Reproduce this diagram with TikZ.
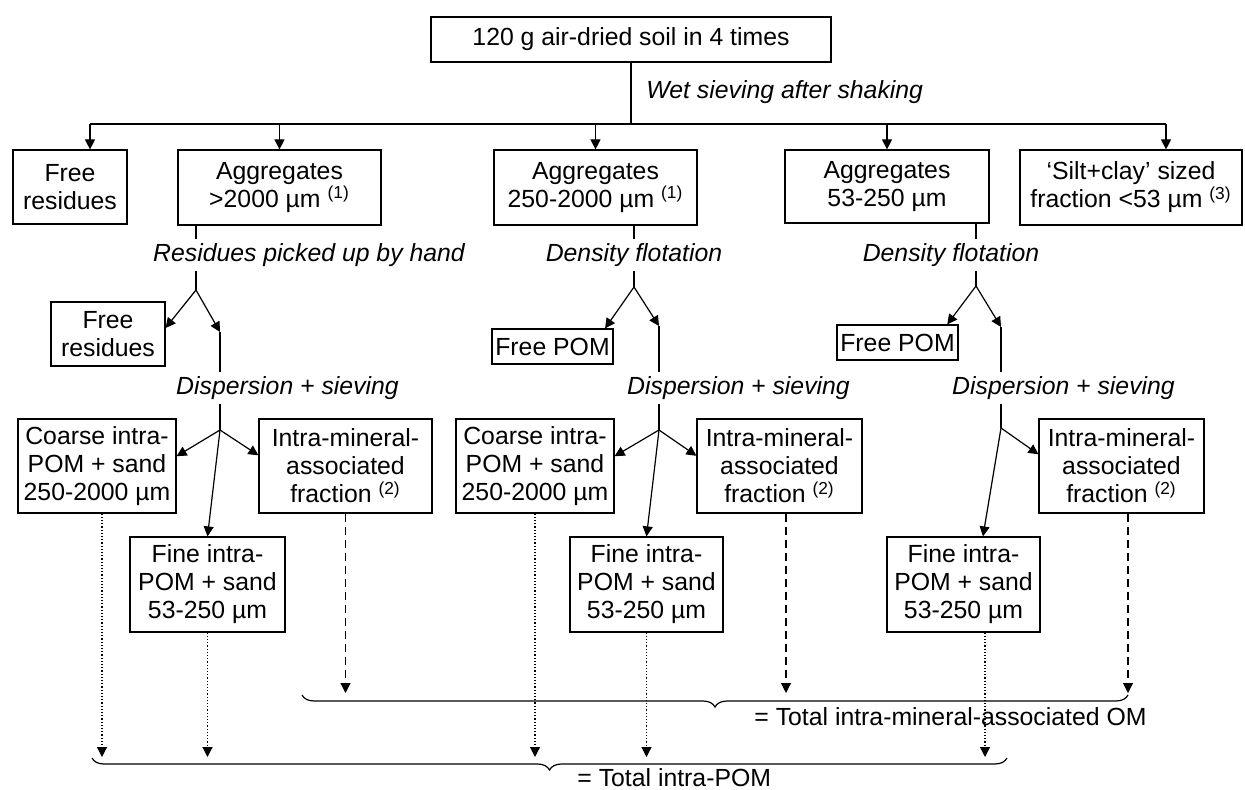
\documentclass[tikz,border=0pt]{standalone}
\usepackage{fontspec}
\setmainfont{Liberation Sans}
\usetikzlibrary{arrows.meta}
\usetikzlibrary{decorations.pathreplacing}
\newcommand{\fsz}{\fontsize{12.4}{14}\selectfont}
\newcommand{\fnote}[1]{\textsuperscript{(#1)}}
\tikzset{
    boxn/.style = {rectangle, line width=0.6pt, draw=black, align=center, inner sep=1pt, font=\fsz, text=black},
    labl/.style = {fill=white, inner xsep=0pt, inner ysep=2pt, font=\fsz\itshape, text=black},
    sumt/.style = {anchor=west, inner sep=0pt, font=\fsz, text=black},
    edgen/.style = {-, line width=0.6pt, black},
    edgea/.style = {-{Triangle[length=5pt,width=5pt]}, line width=0.6pt, black},
    edged/.style = {-{Triangle[length=5pt,width=5pt]}, line width=0.6pt, black, dash pattern=on 4pt off 2.5pt}, % intra-mineral
    edgeo/.style = {-{Triangle[length=5pt,width=5pt]}, line width=0.6pt, black, densely dotted}, % intra-POM
    brc/.style = {decorate, decoration={brace, mirror, amplitude=6pt}, line width=0.6pt, black}
}

\begin{document}
\begin{tikzpicture}[x=0.5pt,y=-0.5pt]
\path[use as bounding box] (0,0) rectangle (1245,790);
%
\node[boxn, minimum width=200pt, minimum height=22.5pt] at (631,39.5) (soil) {120 g air-dried soil in 4 times};
\node[boxn, minimum width=57pt, minimum height=37pt] at (70,187) (free1) {Free\\residues};
\node[boxn, minimum width=101.5pt, minimum height=37.5pt] at (279.5,187.5) (agg1) {Aggregates\\>2000 µm \fnote{1}};
\node[boxn, minimum width=101.5pt, minimum height=37.5pt] at (595.5,187.5) (agg2) {Aggregates\\250-2000 µm \fnote{1}};
\node[boxn, minimum width=102pt, minimum height=36.5pt] at (887,186.5) (agg3) {Aggregates\\53-250 µm};
\node[boxn, minimum width=111pt, minimum height=37.5pt] at (1131,187.5) (silt) {‘Silt+clay’ sized\\fraction <53 µm \fnote{3}};
%
\node[boxn, minimum width=57pt, minimum height=32pt] at (108,334) (free2) {Free\\residues};
\node[boxn, minimum width=60.5pt, minimum height=17.5pt] at (552.5,346.5) (pom2) {Free POM};
\node[boxn, minimum width=60.5pt, minimum height=17.5pt] at (897.5,342.5) (pom3) {Free POM};
%
\node[boxn, minimum width=79pt, minimum height=47pt] at (97,466) (coarse1) {Coarse intra-\\POM + sand\\250-2000 µm};
\node[boxn, minimum width=86.5pt, minimum height=47pt] at (345.5,466) (intra1) {Intra-mineral-\\associated\\fraction \fnote{2}};
\node[boxn, minimum width=79pt, minimum height=47pt] at (535,466) (coarse2) {Coarse intra-\\POM + sand\\250-2000 µm};
\node[boxn, minimum width=82.5pt, minimum height=47pt] at (779.5,466) (intra2) {Intra-mineral-\\associated\\fraction \fnote{2}};
\node[boxn, minimum width=82.5pt, minimum height=47pt] at (1121.5,466) (intra3) {Intra-mineral-\\associated\\fraction \fnote{2}};
\node[boxn, minimum width=77.5pt, minimum height=47.5pt] at (207.5,584.5) (fine1) {Fine intra-\\POM + sand\\53-250 µm};
\node[boxn, minimum width=76.5pt, minimum height=47.5pt] at (646.5,584.5) (fine2) {Fine intra-\\POM + sand\\53-250 µm};
\node[boxn, minimum width=76.5pt, minimum height=47.5pt] at (963.5,584.5) (fine3) {Fine intra-\\POM + sand\\53-250 µm};
%
\coordinate (h0) at (631,124);
\coordinate (hl) at (90,124);
\coordinate (hr) at (1166,124);
\coordinate (s1) at (196,290);
\coordinate (t1) at (220,332);
\coordinate (u1) at (220,430);
\coordinate (s2) at (634,287);
\coordinate (t2) at (659,326);
\coordinate (u2) at (659,430);
\coordinate (s3) at (976,286);
\coordinate (t3) at (1001,327);
\coordinate (u3) at (1001,428);
\coordinate (p1) at (102,757);
\coordinate (p5) at (985,757);
\coordinate (q2) at (786,693);
\coordinate (q3) at (1128,693);
%
\draw[edgen] (soil.south) -- (h0);
\draw[edgen] (hl) -- (hr);
\draw[edgea] (hl) -- (hl |- free1.north);
\draw[edgea] (agg1.north |- hl) -- (agg1.north);
\draw[edgea] (agg2.north |- hl) -- (agg2.north);
\draw[edgea] (agg3.north |- hl) -- (agg3.north);
\draw[edgea] (hr) -- (hr |- silt.north);
%
\draw[edgen] (agg1.south -| s1) -- (s1);
\draw[edgea] (s1) -- (free2.6);
\draw[edgea] (s1) -- (t1);
\draw[edgen] (t1) -- (u1);
\draw[edgea] (u1) -- (coarse1.7);
\draw[edgea] (u1) -- (intra1.173);
\draw[edgea] (u1) -- (fine1.north);
%
\draw[edgen] (agg2.south -| s2) -- (s2);
\draw[edgea] (s2) -- (pom2.19);
\draw[edgea] (s2) -- (t2);
\draw[edgen] (t2) -- (u2);
\draw[edgea] (u2) -- (coarse2.7);
\draw[edgea] (u2) -- (intra2.173);
\draw[edgea] (u2) -- (fine2.north);
%
\draw[edgen] (agg3.south -| s3) -- (s3);
\draw[edgea] (s3) -- (pom3.20);
\draw[edgea] (s3) -- (t3);
\draw[edgen] (t3) -- (u3);
\draw[edgea] (u3) -- (intra3.172);
\draw[edgea] (u3) -- (fine3.68);
%
\node[labl, fill=none, anchor=west] at (646,92) (wet) {Wet sieving after shaking};
\node[labl] at (309,255) (pick1) {Residues picked up by hand};
\node[labl] at (634,255) (dens2) {Density flotation};
\node[labl] at (951,255) (dens3) {Density flotation};
\node[labl] at (287.5,388) (disp1) {Dispersion + sieving};
\node[labl] at (738.5,388) (disp2) {Dispersion + sieving};
\node[labl] at (1063.5,388) (disp3) {Dispersion + sieving};
%
\node[sumt] at (754,717) (tot1) {= Total intra-mineral-associated OM};
\node[sumt] at (577,778) (tot2) {= Total intra-POM};
%
\draw[edgeo] (p1 |- coarse1.south) -- (p1);
\draw[edgeo] (fine1.south) -- (fine1.south |- p1);
\draw[edgeo] (coarse2.south) -- (coarse2.south |- p1);
\draw[edgeo] (fine2.south) -- (fine2.south |- p1);
\draw[edgeo] (p5 |- fine3.south) -- (p5);
\draw[edged] (intra1.south) -- (intra1.south |- q2);
\draw[edged] (q2 |- intra2.south) -- (q2);
\draw[edged] (q3 |- intra3.south) -- (q3);
%
\coordinate (b1l) at (302,695);
\coordinate (b1r) at (1128,695);
\coordinate (b2l) at (92,758);
\coordinate (b2r) at (1007,758);
\draw[brc] (b1l) -- (b1r);
\draw[brc] (b2l) -- (b2r);

\end{tikzpicture}
\end{document}
